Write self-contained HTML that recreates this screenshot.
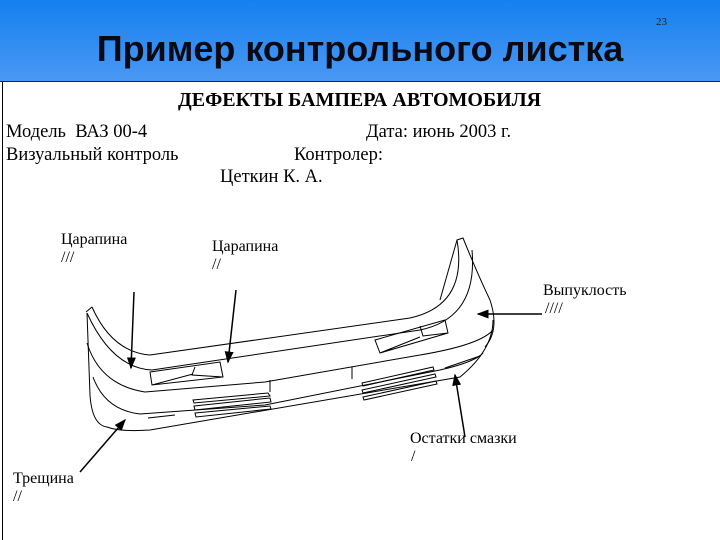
<!DOCTYPE html>
<html><head><meta charset="utf-8"><style>
body{margin:0;width:720px;height:540px;overflow:hidden;background:#fff;position:relative;font-family:"Liberation Serif",serif}
.hdr{position:absolute;left:0;top:0;width:720px;height:81px;background:linear-gradient(#1480f0,#4a98f2);border-bottom:1px solid #1a2040}
.t{position:absolute;left:0;width:720px;text-align:center;top:28px;font:bold 36px "Liberation Sans",sans-serif;color:#0a0a14}
.n{position:absolute;left:656px;top:16px;font-size:11px;color:#222}
.lb{position:absolute;left:2px;top:82px;width:1px;height:458px;background:#000}
.x{position:absolute;font-size:18.5px;color:#000;white-space:nowrap;line-height:1}
.s{position:absolute;font-size:16px;white-space:nowrap;line-height:1}
</style></head><body>
<div class="hdr"></div>
<div class="t">Пример контрольного листка</div>
<div class="n">23</div>
<div class="lb"></div>
<div class="x" style="left:178px;top:90px;font-weight:bold;font-size:20px">ДЕФЕКТЫ БАМПЕРА АВТОМОБИЛЯ</div>
<div class="x" style="left:6px;top:123px">Модель&nbsp; ВАЗ 00-4</div>
<div class="x" style="left:366px;top:123px">Дата: июнь 2003 г.</div>
<div class="x" style="left:6px;top:146px">Визуальный контроль</div>
<div class="x" style="left:294px;top:146px">Контролер:</div>
<div class="x" style="left:220px;top:168px">Цеткин К. А.</div>
<div class="s" style="left:61px;top:232px">Царапина</div>
<div class="s" style="left:61px;top:250px">///</div>
<div class="s" style="left:212px;top:239px">Царапина</div>
<div class="s" style="left:212px;top:257px">//</div>
<div class="s" style="left:543px;top:283px">Выпуклость</div>
<div class="s" style="left:545px;top:301px">////</div>
<div class="s" style="left:410px;top:431px">Остатки смазки</div>
<div class="s" style="left:411px;top:449px">/</div>
<div class="s" style="left:13px;top:471px">Трещина</div>
<div class="s" style="left:13px;top:489px">//</div>
<svg width="720" height="540" style="position:absolute;left:0;top:0" fill="none" stroke="#000" stroke-width="1">
<defs><marker id="a" markerWidth="8" markerHeight="8" refX="7" refY="4" orient="auto"><path d="M0,1 L8,4 L0,7z" fill="#000" stroke="none"/></marker></defs>
<path d="M92,307 Q112,352 150,355 L410,318 Q468,305 457,240 L463,238 Q478,275 490,300 Q500,330 485,347"/>
<path d="M86,312 L92,307"/>
<path d="M87,313 Q112,368 152,370 L420,330 Q478,318 472,250"/>
<path d="M457,240 L440,300"/>
<path d="M87,313 L90,395 Q92,425 107,427 Q120,432 150,430 L460,377 Q493,350 493,320"/>
<path d="M87,343 Q100,385 145,392 L265,382 L420,355 Q480,345 493,330"/>
<path d="M93,377 Q105,410 140,414 L265,405 L440,370 Q475,362 483,353"/>
<path d="M150,372 L220,362 L223,377 L152,385 Z M195,367 L192,375 L223,377 M152,385 L193,374"/>
<path d="M375,340 L445,320 L448,333 L380,353 Z M420,326 L423,336 L448,333 M380,353 L420,337"/>
<path d="M270,380 V392 M352,367 V379"/>
<path d="M193,400 L268,393 L270,396 L194,403Z M194,406 L270,398 L271,402 L195,410Z M195,413 L270,406 L271,409 L196,417Z"/>
<path d="M148,418 L175,415"/>
<path d="M362,383 L433,367 L434,370 L363,386Z M362,390 L435,374 L436,377 L363,393Z M363,397 L436,381 L437,384 L364,400Z"/>
<path d="M445,368 L480,356"/>
<g stroke-width="1.5" marker-end="url(#a)">
<line x1="134" y1="292" x2="131" y2="368"/>
<line x1="236" y1="290" x2="228" y2="362"/>
<line x1="542" y1="314" x2="478" y2="314"/>
<line x1="465" y1="437" x2="455" y2="375"/>
<line x1="80" y1="472" x2="125" y2="420"/>
</g>
</svg>
</body></html>
